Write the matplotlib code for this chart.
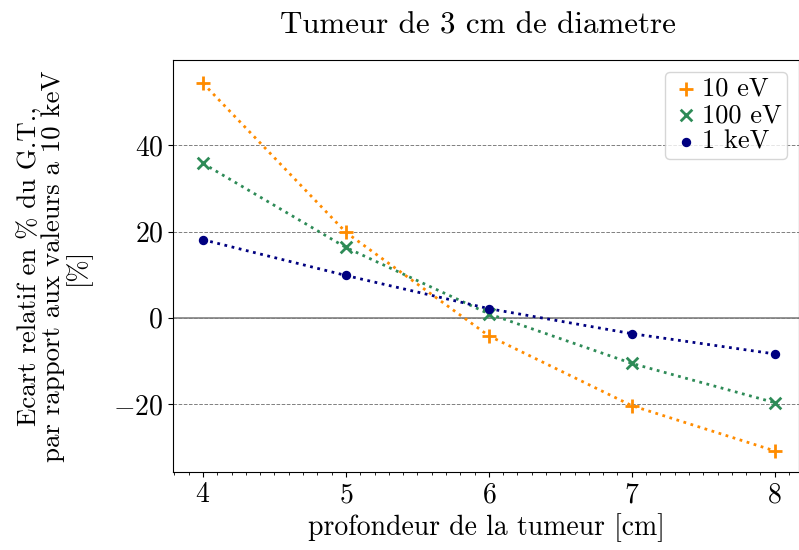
import numpy as np
import matplotlib
matplotlib.use("Agg")
import matplotlib.pyplot as plt
from matplotlib.ticker import MultipleLocator

plt.rcParams["font.family"] = ["cmr10", "DejaVu Serif"]
plt.rcParams["mathtext.fontset"] = "cm"
plt.rcParams["axes.formatter.use_mathtext"] = True
plt.rcParams["font.size"] = 20

profondeur = [4, 5, 6, 7, 8]
ecart_10ev = [54.4, 19.8, -4.2, -20.4, -30.9]
ecart_100ev = [35.8, 16.3, 0.9, -10.6, -19.7]
ecart_1kev = [18.1, 9.8, 2.1, -3.7, -8.4]

fig = plt.figure(figsize=(7.99, 5.5), dpi=100)
ax = fig.add_axes([173 / 799, 1 - 472 / 550, 626 / 799, 412 / 550])

ax.axhline(0, color="gray", lw=1.2, zorder=1)

series = [
    (ecart_10ev, "darkorange", "+", 90, "10 eV"),
    (ecart_100ev, "seagreen", "x", 70, "100 eV"),
    (ecart_1kev, "navy", ".", 90, "1 keV"),
]
for vals, col, mk, sz, lab in series:
    ax.plot(profondeur, vals, ls=":", lw=2, color=col, zorder=2)
    ax.scatter(profondeur, vals, marker=mk, s=sz, color=col,
               linewidths=2, label=lab, zorder=3)

ax.set_xlim(3.79, 8.17)
ax.set_ylim(-35.8, 59.8)
ax.xaxis.set_major_locator(MultipleLocator(1))
ax.xaxis.set_minor_locator(MultipleLocator(0.1))
ax.yaxis.set_major_locator(MultipleLocator(20))
ax.grid(axis="y", ls="--", color="gray", lw=0.7)
ax.set_axisbelow(True)

ax.set_title("Tumeur de 3 cm de diametre", fontsize=22.3, pad=19, x=0.487)
ax.set_xlabel("profondeur de la tumeur [cm]")
ax.set_ylabel("Ecart relatif en % du G.T.,\npar rapport aux valeurs a 10 keV\n[%]",
              fontsize=19.3, linespacing=0.95, labelpad=16)
ax.legend(loc="upper right", fontsize=19, handletextpad=0.0, handlelength=1.2,
          borderpad=0.2, labelspacing=0.1, borderaxespad=0.45)

fig.savefig("out.png", dpi=100)
